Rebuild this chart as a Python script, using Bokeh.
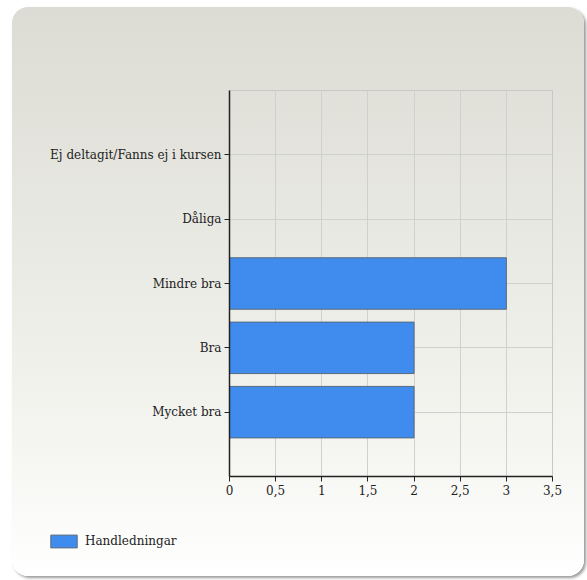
from bokeh.plotting import figure
from bokeh.layouts import column
from bokeh.models import FactorRange, Range1d, FixedTicker, Legend, LegendItem, ColumnDataSource
from bokeh.embed import file_html
from bokeh.resources import INLINE

categories = ["Mycket bra", "Bra", "Mindre bra", "Dåliga", "Ej deltagit/Fanns ej i kursen"]
values = [2, 2, 3, 0, 0]
series_name = "Handledningar"
x_ticks = [0, 0.5, 1, 1.5, 2, 2.5, 3, 3.5]
x_tick_labels = ["0", "0,5", "1", "1,5", "2", "2,5", "3", "3,5"]

FONT = "DejaVu Serif"
FSIZE = "12px"
BAR_FILL = "#3f8cee"
BAR_LINE = "#5a6a7a"

W = 572
H_MAIN = 505
H_LEG = 64

p = figure(width=W, height=H_MAIN, output_backend="svg", toolbar_location=None,
           y_range=FactorRange(*categories, range_padding=0.2),
           x_range=Range1d(0, 3.5),
           min_border_left=217, min_border_right=32, min_border_top=83, min_border_bottom=36)
p.frame_align = False
p.border_fill_color = None
p.background_fill_color = None
p.outline_line_color = "#c8c8c8"

src = ColumnDataSource(dict(cat=categories, val=values))
r = p.hbar(y="cat", right="val", left=0, height=0.8, source=src,
           fill_color=BAR_FILL, line_color=BAR_LINE, line_width=1)

p.xaxis.ticker = FixedTicker(ticks=x_ticks)
p.xaxis.major_label_overrides = {t: l for t, l in zip(x_ticks, x_tick_labels)}
for ax in (p.xaxis[0], p.yaxis[0]):
    ax.axis_line_color = "#222222"
    ax.axis_line_width = 1.5
    ax.major_tick_line_color = "#222222"
    ax.major_tick_out = 5
    ax.major_tick_in = 0
    ax.minor_tick_line_color = None
    ax.major_label_text_font = FONT
    ax.major_label_text_font_size = FSIZE
    ax.major_label_text_color = "#222222"
    ax.major_label_standoff = 3

p.xgrid.grid_line_color = "#d0d0d0"
p.ygrid.grid_line_color = "#d0d0d0"
p.xgrid.ticker = FixedTicker(ticks=x_ticks)

# legend strip below the chart (its bars lie outside its visible ranges)
p2 = figure(width=W, height=H_LEG, output_backend="svg", toolbar_location=None,
            x_range=Range1d(-2, -1), y_range=Range1d(-2, -1),
            x_axis_location=None, y_axis_location=None,
            min_border_left=14, min_border_top=0, min_border_right=0, min_border_bottom=0)
p2.frame_align = False
p2.border_fill_color = None
p2.background_fill_color = None
p2.outline_line_color = None
p2.grid.visible = False
r2 = p2.hbar(y="val", right="val", left=0, height=0.8, source=src,
             fill_color=BAR_FILL, line_color=BAR_LINE, line_width=1)
legend = Legend(items=[LegendItem(label=series_name, renderers=[r2])],
                location="top_left", background_fill_alpha=0, border_line_color=None,
                label_text_font=FONT, label_text_font_size=FSIZE, label_text_color="#222222",
                glyph_width=33, glyph_height=16, padding=0, margin=21, label_standoff=5,
                label_height=16)
p2.add_layout(legend, "center")

layout = column(p, p2, spacing=0, width=W, height=H_MAIN + H_LEG,
                styles={"background": "linear-gradient(#dcdcd4, #f4f4f0 75%, #ffffff)",
                        "border-radius": "16px",
                        "box-shadow": "2px 2px 3px #9a9a9a",
                        "margin-left": "12px",
                        "margin-top": "7px"})

open("out.html", "w").write(file_html(layout, INLINE))
